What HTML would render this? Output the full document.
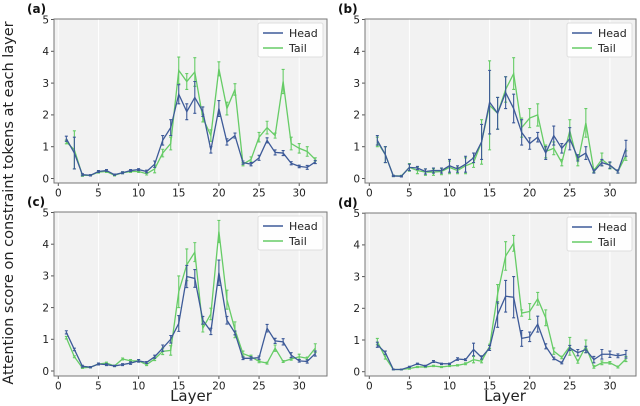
<!DOCTYPE html>
<html><head><meta charset="utf-8"><style>
body{margin:0;background:#fff;}
svg{display:block;font-family:"DejaVu Sans","Liberation Sans",sans-serif;}
</style></head><body>
<svg id="chart" width="640" height="406" viewBox="0 0 640 406" xmlns="http://www.w3.org/2000/svg">
<text x="0" y="0" transform="translate(13,203) rotate(-90)" text-anchor="middle" font-size="14.5" fill="#222">Attention score on constraint tokens at each layer</text>
<text x="191" y="401" text-anchor="middle" font-size="15" fill="#222">Layer</text>
<text x="505" y="401" text-anchor="middle" font-size="15" fill="#222">Layer</text>
</svg>
<script>
const layers = Array.from({length:32},(_, i)=>i+1);
const yTicks = [0,1,2,3,4,5];
const xTicks = [0,5,10,15,20,25,30];
const panelLabels = ['(a)','(b)','(c)','(d)'];
const headA = [1.25,0.8,0.12,0.1,0.22,0.25,0.12,0.18,0.25,0.28,0.22,0.45,1.2,1.6,2.65,2.1,2.55,2.1,0.9,2.2,1.15,1.35,0.5,0.45,0.65,1.2,0.82,0.8,0.48,0.38,0.35,0.52];
const headAErr = [0.08,0.5,0.03,0.02,0.03,0.03,0.02,0.03,0.03,0.03,0.04,0.1,0.15,0.25,0.3,0.25,0.5,0.15,0.1,0.25,0.1,0.08,0.05,0.05,0.08,0.08,0.08,0.08,0.05,0.04,0.06,0.05];
const tailA = [1.15,0.9,0.1,0.1,0.2,0.22,0.1,0.18,0.22,0.22,0.15,0.3,0.8,1.1,3.4,3.05,3.35,1.9,1.35,3.45,2.2,2.8,0.45,0.6,1.3,1.6,1.35,3.05,1.1,0.95,0.85,0.6];
const tailAErr = [0.06,0.6,0.03,0.02,0.03,0.03,0.02,0.03,0.03,0.03,0.04,0.12,0.12,0.2,0.42,0.25,0.45,0.12,0.18,0.22,0.2,0.18,0.05,0.08,0.15,0.2,0.08,0.38,0.2,0.15,0.15,0.05];
const headB = [1.2,0.75,0.08,0.07,0.35,0.33,0.22,0.25,0.25,0.4,0.3,0.45,0.65,1.15,2.4,2.05,2.7,2.2,1.45,1.1,1.3,0.8,1.35,0.95,1.25,0.65,0.8,0.22,0.5,0.42,0.22,0.95];
const headBErr = [0.15,0.25,0.02,0.02,0.1,0.05,0.08,0.08,0.08,0.2,0.1,0.25,0.15,0.55,1.0,0.5,0.5,0.45,0.4,0.18,0.15,0.2,0.3,0.15,0.35,0.1,0.2,0.05,0.1,0.1,0.05,0.25];
const tailB = [1.15,0.75,0.08,0.08,0.35,0.25,0.2,0.2,0.22,0.35,0.25,0.4,0.5,1.15,2.3,2.05,2.8,3.3,1.6,1.9,2.0,0.85,0.95,0.5,1.5,0.5,1.75,0.25,0.6,0.4,0.22,0.72];
const tailBErr = [0.15,0.25,0.02,0.02,0.12,0.1,0.1,0.1,0.1,0.2,0.1,0.25,0.15,0.7,1.4,0.5,0.4,0.5,0.3,0.3,0.35,0.2,0.2,0.1,0.35,0.1,0.45,0.05,0.2,0.1,0.05,0.15];
const headC = [1.22,0.68,0.15,0.12,0.22,0.2,0.16,0.2,0.25,0.32,0.27,0.45,0.72,1.0,1.5,2.98,2.92,1.6,1.25,3.1,1.6,1.2,0.4,0.4,0.42,1.35,0.95,0.92,0.5,0.32,0.3,0.55];
const headCErr = [0.05,0.04,0.03,0.02,0.03,0.03,0.02,0.03,0.04,0.04,0.03,0.05,0.1,0.12,0.25,0.35,0.28,0.12,0.1,0.4,0.12,0.06,0.04,0.05,0.05,0.12,0.08,0.1,0.08,0.04,0.05,0.08];
const tailC = [1.05,0.45,0.1,0.12,0.22,0.25,0.16,0.38,0.32,0.32,0.2,0.38,0.62,0.65,2.5,3.35,3.75,1.35,1.8,4.4,2.25,1.3,0.55,0.45,0.3,0.25,0.72,0.3,0.38,0.45,0.4,0.72];
const tailCErr = [0.04,0.03,0.02,0.02,0.03,0.03,0.02,0.03,0.04,0.04,0.03,0.05,0.1,0.15,0.5,0.5,0.3,0.12,0.18,0.35,0.3,0.25,0.08,0.05,0.04,0.03,0.1,0.03,0.04,0.08,0.04,0.14];
const headD = [0.85,0.6,0.07,0.07,0.15,0.25,0.18,0.32,0.25,0.25,0.4,0.38,0.7,0.45,0.75,1.8,2.38,2.35,1.05,1.1,1.5,0.8,0.42,0.28,0.75,0.6,0.7,0.38,0.55,0.55,0.5,0.55];
const headDErr = [0.08,0.05,0.01,0.01,0.02,0.02,0.02,0.03,0.02,0.02,0.04,0.03,0.2,0.05,0.08,0.4,0.5,0.65,0.25,0.15,0.25,0.08,0.04,0.03,0.08,0.1,0.1,0.1,0.15,0.1,0.06,0.12];
const tailD = [0.95,0.45,0.07,0.07,0.1,0.15,0.15,0.18,0.15,0.18,0.2,0.25,0.38,0.33,0.8,2.45,3.65,4.05,1.85,1.9,2.3,1.7,0.65,0.45,0.8,0.32,0.8,0.15,0.28,0.28,0.15,0.4];
const tailDErr = [0.1,0.05,0.01,0.01,0.02,0.02,0.02,0.02,0.02,0.02,0.02,0.03,0.1,0.05,0.07,0.3,0.45,0.25,0.1,0.25,0.2,0.25,0.1,0.04,0.28,0.05,0.2,0.04,0.06,0.04,0.03,0.08];

const NS='http://www.w3.org/2000/svg';
const svg=document.getElementById('chart');
function mk(tag,attrs,parent){const e=document.createElementNS(NS,tag);for(const k in attrs)e.setAttribute(k,attrs[k]);(parent||svg).appendChild(e);return e;}
const panels=[
 {L:54,T:19,R:327,B:183,x0:58.3,xs:8.03,y0:178.5,ys:31.8,head:headA,he:headAErr,tail:tailA,te:tailAErr},
 {L:365,T:19,R:636,B:183,x0:369.3,xs:8.02,y0:178.5,ys:31.8,head:headB,he:headBErr,tail:tailB,te:tailBErr},
 {L:54,T:212,R:327,B:376,x0:58.3,xs:8.03,y0:371,ys:31.7,head:headC,he:headCErr,tail:tailC,te:tailCErr},
 {L:365,T:213,R:636,B:376,x0:369.3,xs:8.02,y0:371.7,ys:31.7,head:headD,he:headDErr,tail:tailD,te:tailDErr}
];
const HEAD='#3d5a98', TAIL='#66cc66';
panels.forEach((p,pi)=>{
 const g=mk('g',{});
 
 
 const X=v=>p.x0+v*p.xs, Y=v=>p.y0-v*p.ys;
 const bg=mk('rect',{x:p.L,y:p.T,width:p.R-p.L,height:p.B-p.T,fill:'#f2f2f2'},g);
 
 
 xTicks.forEach(t=>{
  const gl=mk('line',{x1:X(t),x2:X(t),y1:p.T,y2:p.B,stroke:'#fff','stroke-width':1},g);
  
  
  mk('line',{x1:X(t),x2:X(t),y1:p.B,y2:p.B+3,stroke:'#555'},g);
  const tl=mk('text',{x:X(t),y:p.B+13.5,'text-anchor':'middle','font-size':10.5,fill:'#222'},g);
  tl.textContent=t;
  
  
 });
 yTicks.forEach(t=>{
  mk('line',{x1:p.L-3,x2:p.L,y1:Y(t),y2:Y(t),stroke:'#555'},g);
  const tl=mk('text',{x:p.L-5,y:Y(t)+3.8,'text-anchor':'end','font-size':10.5,fill:'#222'},g);
  tl.textContent=t;
  
  
 });
 [[p.tail,p.te,TAIL,'tail'],[p.head,p.he,HEAD,'head']].forEach(([vals,errs,col,nm])=>{
  const sg=mk('g',{},g);
  
  
  mk('polyline',{points:vals.map((v,i)=>X(layers[i])+','+Y(v)).join(' '),fill:'none',stroke:col,'stroke-width':1.3},sg);
  vals.forEach((v,i)=>{
   const x=X(layers[i]),a=Y(v+errs[i]),b=Y(Math.max(0,v-errs[i]));
   const eb=mk('path',{d:`M${x},${a}V${b}M${x-1.5},${a}h3M${x-1.5},${b}h3`,stroke:col,'stroke-width':1.1,fill:'none'},sg);
   
   
  });
 });
 const fr=mk('rect',{x:p.L,y:p.T,width:p.R-p.L,height:p.B-p.T,fill:'none',stroke:'#777','stroke-width':1},g);
 
 
 const lg=mk('g',{},g);
 
 
 const lx=p.R-69, ly=p.T+4;
 mk('rect',{x:lx,y:ly,width:65,height:34,rx:2,fill:'#fff','fill-opacity':0.9,stroke:'#ddd'},lg);
 [['Head',HEAD],['Tail',TAIL]].forEach(([t,c],k)=>{
  const yy=ly+10+k*15;
  mk('line',{x1:lx+5,x2:lx+25,y1:yy,y2:yy,stroke:c,'stroke-width':1.5},lg);
  const tx=mk('text',{x:lx+31,y:yy+4,'font-size':11,fill:'#222'},lg);
  tx.textContent=t;
  
  
 });
 const pl=mk('text',{x:p.L-27,y:p.T-6,'font-size':12,'font-weight':'bold',fill:'#111'},g);
 pl.textContent=panelLabels[pi];
 
 
});
</script>
</body></html>
